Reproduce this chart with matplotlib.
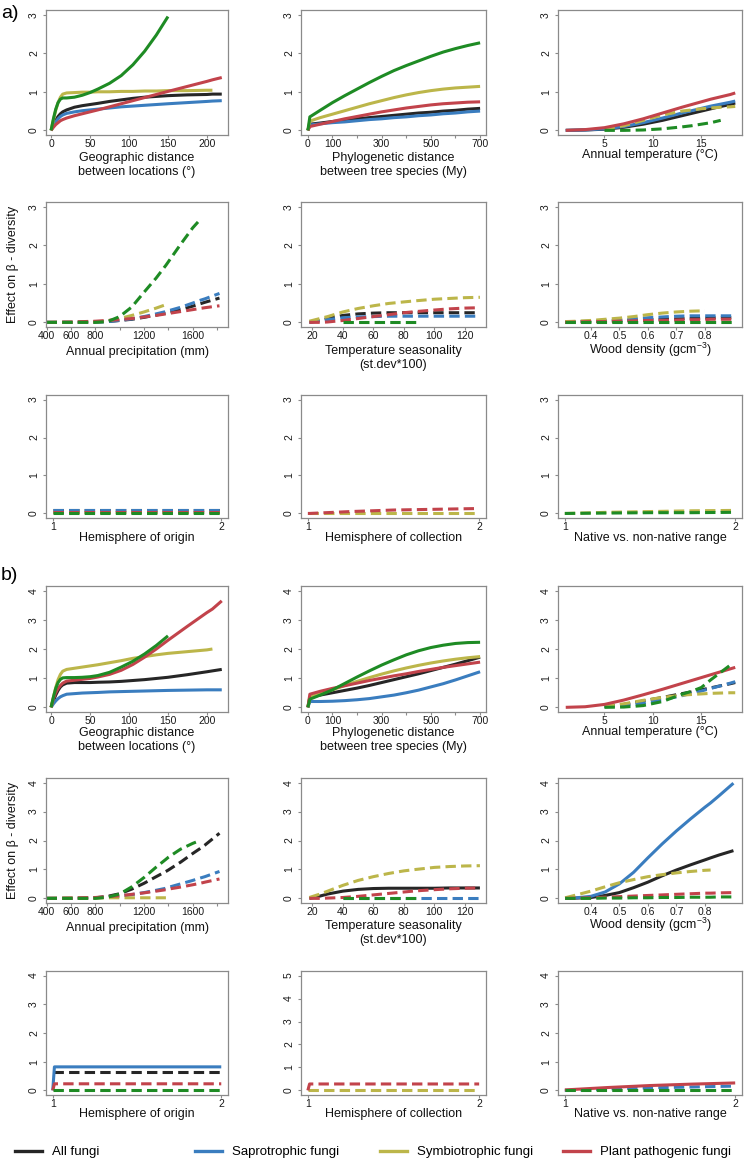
"""Effects of the predictors on fungal beta-diversity, panels a) and b)"""

import matplotlib.pyplot as plt
import numpy as np
from matplotlib.lines import Line2D

plt.rcParams["font.family"] = ["Liberation Sans", "DejaVu Sans"]
plt.rcParams["mathtext.fontset"] = "custom"
plt.rcParams["mathtext.rm"] = "Liberation Sans"

# legend
guilds = ["All fungi", "Saprotrophic fungi", "Symbiotrophic fungi", "Plant pathogenic fungi"]

# x grids of the predictors
geo_x = [0, 3, 6, 9, 12, 15, 20, 30, 40, 50, 60, 75, 90, 105, 120, 135, 150, 175, 200, 207, 219]
phylo_x = [0, 8, 50, 100, 150, 200, 250, 300, 350, 400, 450, 500, 550, 600, 650, 700]
temp_x = [1, 3, 5, 7, 9, 11, 13, 14, 15, 16, 17, 18, 18.5]
precip_x = [400, 600, 800, 900, 1000, 1100, 1200, 1300, 1380, 1400, 1500, 1600, 1660, 1700, 1820]
seas_x = [18, 25, 30, 40, 50, 60, 70, 80, 88, 100, 110, 120, 130]
wood_x = [0.31, 0.35, 0.4, 0.45, 0.5, 0.55, 0.6, 0.65, 0.7, 0.75, 0.8, 0.82, 0.85, 0.9]
hemi_x = [1.0, 1.01, 1.25, 1.5, 1.75, 2.0]

# ---- a) ----
a_geo_all = [0, 0.14, 0.26, 0.36, 0.43, 0.48, 0.53, 0.6, 0.64, 0.67, 0.7, 0.75, 0.79, 0.83, 0.86, 0.88, 0.9, 0.92, 0.93, 0.94, 0.94]
a_geo_sap = [0, 0.12, 0.22, 0.3, 0.36, 0.4, 0.44, 0.48, 0.51, 0.53, 0.55, 0.58, 0.61, 0.63, 0.65, 0.67, 0.69, 0.72, 0.75, 0.76, 0.77]
a_geo_sym = [0, 0.27, 0.52, 0.72, 0.86, 0.94, 0.97, 0.98, 0.99, 0.99, 1.0, 1.0, 1.01, 1.01, 1.02, 1.02, 1.03, 1.03, 1.04, 1.04, None]
a_geo_pat = [0, 0.08, 0.15, 0.2, 0.25, 0.28, 0.32, 0.38, 0.43, 0.48, 0.53, 0.61, 0.69, 0.77, 0.85, 0.93, 1.01, 1.14, 1.27, 1.31, 1.37]
a_geo_oth = [0, 0.3, 0.55, 0.72, 0.81, 0.84, 0.84, 0.86, 0.91, 0.98, 1.07, 1.22, 1.42, 1.7, 2.05, 2.47, 2.95, None, None, None, None]

a_phy_all = [0, 0.16, 0.19, 0.23, 0.26, 0.3, 0.33, 0.36, 0.39, 0.42, 0.45, 0.47, 0.5, 0.52, 0.55, 0.57]
a_phy_sap = [0, 0.14, 0.17, 0.2, 0.22, 0.25, 0.28, 0.3, 0.33, 0.35, 0.38, 0.4, 0.43, 0.45, 0.48, 0.5]
a_phy_sym = [0, 0.24, 0.33, 0.42, 0.51, 0.6, 0.69, 0.77, 0.85, 0.92, 0.98, 1.03, 1.07, 1.1, 1.12, 1.14]
a_phy_pat = [0, 0.1, 0.16, 0.23, 0.3, 0.36, 0.42, 0.48, 0.53, 0.58, 0.62, 0.66, 0.69, 0.71, 0.73, 0.74]
a_phy_oth = [0, 0.35, 0.52, 0.72, 0.9, 1.07, 1.24, 1.4, 1.55, 1.68, 1.8, 1.92, 2.03, 2.12, 2.2, 2.27]

a_temp_all = [0, 0.01, 0.03, 0.08, 0.16, 0.26, 0.38, 0.44, 0.5, 0.56, 0.62, 0.67, 0.71]
a_temp_sap = [0, 0.01, 0.04, 0.1, 0.2, 0.32, 0.45, 0.51, 0.57, 0.63, 0.68, 0.73, 0.76]
a_temp_sym = [None, None, 0.04, 0.12, 0.26, 0.4, 0.5, 0.53, 0.56, 0.58, 0.6, 0.61, 0.62]
a_temp_pat = [0, 0.02, 0.07, 0.17, 0.3, 0.45, 0.6, 0.67, 0.74, 0.81, 0.87, 0.93, 0.97]
a_temp_oth = [None, None, 0, 0, 0.01, 0.04, 0.09, 0.12, 0.16, 0.2, 0.26, None, None]

a_prec_all = [0, 0, 0.01, 0.02, 0.05, 0.08, 0.13, 0.19, 0.24, 0.26, 0.33, 0.42, 0.48, 0.52, 0.63]
a_prec_sap = [0, 0, 0.01, 0.02, 0.05, 0.09, 0.15, 0.22, 0.28, 0.3, 0.39, 0.5, 0.57, 0.61, 0.75]
a_prec_sym = [0, 0, 0.01, 0.04, 0.1, 0.18, 0.27, 0.37, 0.46, None, None, None, None, None, None]
a_prec_pat = [0, 0.01, 0.03, 0.05, 0.07, 0.1, 0.14, 0.18, 0.22, 0.23, 0.28, 0.33, 0.36, 0.38, 0.43]
a_prec_oth = [0, 0, 0, 0.02, 0.15, 0.4, 0.78, 1.15, 1.48, 1.57, 2.02, 2.45, 2.66, None, None]

a_seas_all = [0, 0.05, 0.1, 0.18, 0.22, 0.24, 0.25, 0.25, 0.25, 0.25, 0.25, 0.25, 0.25]
a_seas_sap = [0, 0.04, 0.07, 0.12, 0.14, 0.15, 0.16, 0.16, 0.16, 0.16, 0.16, 0.16, 0.16]
a_seas_sym = [0.03, 0.1, 0.15, 0.27, 0.36, 0.43, 0.49, 0.53, 0.56, 0.6, 0.62, 0.64, 0.65]
a_seas_pat = [0, 0, 0.01, 0.05, 0.1, 0.15, 0.2, 0.25, 0.28, 0.32, 0.35, 0.37, 0.38]
a_seas_oth = [None, None, None, 0, 0, 0, 0, 0, 0, None, None, None, None]

a_wood_all = [0, 0.01, 0.02, 0.03, 0.04, 0.06, 0.07, 0.08, 0.09, 0.1, 0.11, 0.11, 0.12, 0.12]
a_wood_sap = [0.01, 0.02, 0.03, 0.04, 0.06, 0.09, 0.12, 0.14, 0.16, 0.17, 0.17, 0.17, 0.17, 0.17]
a_wood_sym = [0.02, 0.03, 0.05, 0.08, 0.11, 0.15, 0.2, 0.24, 0.27, 0.29, 0.3, None, None, None]
a_wood_pat = [0, 0.01, 0.02, 0.02, 0.03, 0.04, 0.05, 0.05, 0.06, 0.07, 0.07, 0.08, 0.08, 0.08]
a_wood_oth = [0, 0, 0, 0, 0, 0, 0, 0, 0, 0, 0, 0, 0, 0]

a_hemo_all = [0.08, 0.08, 0.08, 0.08, 0.08, 0.08]
a_hemo_sap = [0.1, 0.1, 0.1, 0.1, 0.1, 0.1]
a_hemo_sym = [0.03, 0.03, 0.03, 0.03, 0.03, 0.03]
a_hemo_pat = [0.05, 0.05, 0.05, 0.05, 0.05, 0.05]
a_hemo_oth = [0, 0, 0, 0, 0, 0]
a_hemc_sym = [0.02, 0.02, 0.02, 0.02, 0.02, 0.02]
a_hemc_pat = [0, 0, 0.05, 0.09, 0.11, 0.13]
a_nat_sym = [0, 0, 0.03, 0.05, 0.07, 0.08]
a_nat_oth = [0, 0, 0.01, 0.02, 0.02, 0.03]

# ---- b) ----
b_geo_all = [0, 0.22, 0.42, 0.58, 0.7, 0.77, 0.83, 0.85, 0.85, 0.85, 0.86, 0.87, 0.89, 0.92, 0.95, 0.99, 1.03, 1.12, 1.22, 1.25, 1.3]
b_geo_sap = [0, 0.12, 0.22, 0.3, 0.36, 0.4, 0.45, 0.47, 0.49, 0.5, 0.51, 0.53, 0.54, 0.55, 0.56, 0.57, 0.58, 0.59, 0.6, 0.6, 0.6]
b_geo_sym = [0, 0.35, 0.68, 0.95, 1.13, 1.24, 1.3, 1.34, 1.38, 1.42, 1.46, 1.53, 1.6, 1.68, 1.74, 1.8, 1.85, 1.91, 1.97, 2.0, None]
b_geo_pat = [0, 0.3, 0.5, 0.65, 0.75, 0.83, 0.9, 0.93, 0.96, 0.99, 1.04, 1.13, 1.27, 1.47, 1.72, 2.0, 2.3, 2.78, 3.25, 3.37, 3.65]
b_geo_oth = [0, 0.35, 0.65, 0.85, 0.96, 1.01, 1.02, 1.02, 1.03, 1.05, 1.09, 1.2, 1.38, 1.58, 1.83, 2.12, 2.45, None, None, None, None]

b_phy_all = [0, 0.35, 0.42, 0.5, 0.58, 0.66, 0.75, 0.85, 0.95, 1.05, 1.15, 1.26, 1.37, 1.48, 1.6, 1.72]
b_phy_sap = [0, 0.2, 0.2, 0.21, 0.23, 0.26, 0.3, 0.36, 0.42, 0.5, 0.59, 0.7, 0.81, 0.94, 1.08, 1.22]
b_phy_sym = [0, 0.35, 0.47, 0.6, 0.75, 0.89, 1.02, 1.14, 1.25, 1.35, 1.44, 1.52, 1.59, 1.65, 1.7, 1.74]
b_phy_pat = [0, 0.45, 0.55, 0.65, 0.74, 0.83, 0.92, 1.0, 1.08, 1.15, 1.23, 1.3, 1.37, 1.43, 1.49, 1.55]
b_phy_oth = [0, 0.28, 0.42, 0.6, 0.82, 1.04, 1.25, 1.45, 1.63, 1.8, 1.94, 2.05, 2.13, 2.19, 2.22, 2.23]

b_temp_all = [None, None, 0.03, 0.1, 0.22, 0.34, 0.47, 0.53, 0.6, 0.67, 0.74, 0.81, 0.85]
b_temp_sap = [None, None, 0.02, 0.06, 0.14, 0.26, 0.4, 0.48, 0.56, 0.65, 0.74, 0.83, 0.88]
b_temp_sym = [None, None, 0.04, 0.12, 0.24, 0.34, 0.42, 0.44, 0.46, 0.48, 0.49, 0.5, 0.5]
b_temp_pat = [0, 0.02, 0.1, 0.25, 0.43, 0.62, 0.82, 0.92, 1.02, 1.12, 1.22, 1.32, 1.37]
b_temp_oth = [None, None, 0, 0.01, 0.06, 0.2, 0.45, 0.55, 0.68, 0.95, 1.2, 1.45, None]

b_prec_all = [0, 0, 0.02, 0.07, 0.16, 0.32, 0.52, 0.75, 0.93, 0.98, 1.25, 1.55, 1.72, 1.84, 2.25]
b_prec_sap = [0, 0, 0.02, 0.04, 0.08, 0.13, 0.2, 0.28, 0.35, 0.38, 0.5, 0.62, 0.7, 0.75, 0.93]
b_prec_sym = [0, 0.01, 0.01, 0.02, 0.02, 0.02, 0.02, 0.02, 0.02, None, None, None, None, None, None]
b_prec_pat = [0, 0.01, 0.03, 0.06, 0.09, 0.14, 0.19, 0.25, 0.3, 0.32, 0.39, 0.47, 0.52, 0.56, 0.67]
b_prec_oth = [0, 0, 0, 0.04, 0.15, 0.4, 0.72, 1.08, 1.35, 1.42, 1.7, 1.9, 2.0, None, None]

b_seas_all = [0, 0.08, 0.15, 0.25, 0.31, 0.34, 0.35, 0.35, 0.35, 0.35, 0.36, 0.36, 0.36]
b_seas_sap = [None, None, None, 0, 0, 0, 0, 0, 0, 0, 0, 0, 0]
b_seas_sym = [0.03, 0.15, 0.25, 0.45, 0.62, 0.75, 0.86, 0.95, 1.0, 1.07, 1.1, 1.12, 1.13]
b_seas_pat = [0, 0, 0.01, 0.03, 0.07, 0.12, 0.17, 0.22, 0.26, 0.3, 0.33, 0.35, 0.36]
b_seas_oth = [None, None, None, 0, 0, 0, 0, 0, 0, None, None, None, None]

b_wood_all = [0, 0.01, 0.03, 0.1, 0.2, 0.37, 0.56, 0.78, 0.98, 1.16, 1.33, 1.4, 1.5, 1.65]
b_wood_sap = [0, 0.02, 0.07, 0.22, 0.5, 0.9, 1.4, 1.88, 2.33, 2.75, 3.15, 3.3, 3.55, 3.98]
b_wood_sym = [0.02, 0.12, 0.25, 0.4, 0.54, 0.65, 0.75, 0.82, 0.88, 0.93, 0.97, 0.98, None, None]
b_wood_pat = [0, 0.01, 0.02, 0.04, 0.06, 0.08, 0.1, 0.12, 0.14, 0.16, 0.18, 0.18, 0.19, 0.2]
b_wood_oth = [0, 0, 0, 0.01, 0.01, 0.02, 0.02, 0.03, 0.03, 0.04, 0.04, 0.04, 0.05, 0.05]

b_hemo_all = [0.64, 0.64, 0.64, 0.64, 0.64, 0.64]
b_hemo_sap = [0, 0.82, 0.82, 0.82, 0.82, 0.82]
b_hemo_pat = [0, 0.23, 0.23, 0.23, 0.23, 0.23]
b_hemo_oth = [0, 0, 0, 0, 0, 0]
b_hemc_sym = [0, 0, 0, 0, 0, 0]
b_hemc_pat = [0, 0.28, 0.28, 0.28, 0.28, 0.28]
b_nat_sap = [0, 0, 0.05, 0.09, 0.12, 0.15]
b_nat_pat = [0.02, 0.02, 0.1, 0.17, 0.22, 0.26]
b_nat_oth = [0, 0, 0, 0, 0, 0]

# ---- styling ----
colours = {"all": "#262626", "sap": "#3a7dbf", "sym": "#bcb64a", "pat": "#c2434b", "oth": "#1e8b24"}
DASH = (0, (3.4, 1.7))
W, H = 745, 1162
col_px = [(46, 228), (301, 486), (558, 742)]
row_px = [(10, 135), (202, 327), (395, 518), (586, 712), (778, 903), (971, 1095)]
label_y = [[165, 165, 155], [352, 358, 350], [538, 538, 538],
           [740, 740, 732], [928, 933, 925], [1114, 1114, 1114]]

# per predictor: x, xlim, xticks, xtick labels, axis label
predictors = [
    [(geo_x, (-6.5, 227), [0, 50, 100, 150, 200], ["0", "50", "100", "150", "200"],
      "Geographic distance\nbetween locations (°)"),
     (phylo_x, (-28, 724), [0, 100, 200, 300, 400, 500, 600, 700],
      ["0", "100", "", "300", "", "500", "", "700"],
      "Phylogenetic distance\nbetween tree species (My)"),
     (temp_x, (0.2, 19.2), [5, 10, 15], ["5", "10", "15"], "Annual temperature (°C)")],
    [(precip_x, (395, 1890), [400, 600, 800, 1000, 1200, 1400, 1600, 1800],
      ["400", "600", "800", "", "1200", "", "1600", ""], "Annual precipitation (mm)"),
     (seas_x, (12.5, 134), [20, 40, 60, 80, 100, 120], ["20", "40", "60", "80", "100", "120"],
      "Temperature seasonality\n(st.dev*100)"),
     (wood_x, (0.285, 0.93), [0.4, 0.5, 0.6, 0.7, 0.8], ["0.4", "0.5", "0.6", "0.7", "0.8"],
      "Wood density (gcm$^{\\mathregular{-3}}$)")],
    [(hemi_x, (0.96, 2.04), [1, 2], ["1", "2"], "Hemisphere of origin"),
     (hemi_x, (0.96, 2.04), [1, 2], ["1", "2"], "Hemisphere of collection"),
     (hemi_x, (0.96, 2.04), [1, 2], ["1", "2"], "Native vs. non-native range")],
]

S, D = False, True
panels = {
    (0, 0): [(a_geo_all, "all", S), (a_geo_sap, "sap", S), (a_geo_sym, "sym", S), (a_geo_pat, "pat", S), (a_geo_oth, "oth", S)],
    (0, 1): [(a_phy_all, "all", S), (a_phy_sap, "sap", S), (a_phy_sym, "sym", S), (a_phy_pat, "pat", S), (a_phy_oth, "oth", S)],
    (0, 2): [(a_temp_all, "all", S), (a_temp_sap, "sap", S), (a_temp_sym, "sym", D), (a_temp_pat, "pat", S), (a_temp_oth, "oth", D)],
    (1, 0): [(a_prec_all, "all", D), (a_prec_sap, "sap", D), (a_prec_sym, "sym", D), (a_prec_pat, "pat", D), (a_prec_oth, "oth", D)],
    (1, 1): [(a_seas_all, "all", D), (a_seas_sap, "sap", D), (a_seas_sym, "sym", D), (a_seas_pat, "pat", D), (a_seas_oth, "oth", D)],
    (1, 2): [(a_wood_all, "all", D), (a_wood_sap, "sap", D), (a_wood_sym, "sym", D), (a_wood_pat, "pat", D), (a_wood_oth, "oth", D)],
    (2, 0): [(a_hemo_all, "all", D), (a_hemo_sap, "sap", D), (a_hemo_sym, "sym", D), (a_hemo_pat, "pat", D), (a_hemo_oth, "oth", D)],
    (2, 1): [(a_hemc_sym, "sym", D), (a_hemc_pat, "pat", D)],
    (2, 2): [(a_nat_sym, "sym", D), (a_nat_oth, "oth", D)],
    (3, 0): [(b_geo_all, "all", S), (b_geo_sap, "sap", S), (b_geo_sym, "sym", S), (b_geo_pat, "pat", S), (b_geo_oth, "oth", S)],
    (3, 1): [(b_phy_all, "all", S), (b_phy_sap, "sap", S), (b_phy_sym, "sym", S), (b_phy_pat, "pat", S), (b_phy_oth, "oth", S)],
    (3, 2): [(b_temp_all, "all", D), (b_temp_sap, "sap", D), (b_temp_sym, "sym", D), (b_temp_pat, "pat", S), (b_temp_oth, "oth", D)],
    (4, 0): [(b_prec_all, "all", D), (b_prec_sap, "sap", D), (b_prec_sym, "sym", D), (b_prec_pat, "pat", D), (b_prec_oth, "oth", D)],
    (4, 1): [(b_seas_all, "all", S), (b_seas_sap, "sap", D), (b_seas_sym, "sym", D), (b_seas_pat, "pat", D), (b_seas_oth, "oth", D)],
    (4, 2): [(b_wood_all, "all", S), (b_wood_sap, "sap", S), (b_wood_sym, "sym", D), (b_wood_pat, "pat", D), (b_wood_oth, "oth", D)],
    (5, 0): [(b_hemo_all, "all", D), (b_hemo_sap, "sap", S), (b_hemo_pat, "pat", D), (b_hemo_oth, "oth", D)],
    (5, 1): [(b_hemc_sym, "sym", D), (b_hemc_pat, "pat", D)],
    (5, 2): [(b_nat_sap, "sap", D), (b_nat_pat, "pat", S), (b_nat_oth, "oth", D)],
}

fig = plt.figure(figsize=(W / 100, H / 100), dpi=100)

for (r, c), series in panels.items():
    x0, x1 = col_px[c]
    y0, y1 = row_px[r]
    ax = fig.add_axes([x0 / W, 1 - y1 / H, (x1 - x0) / W, (y1 - y0) / H])
    x, xlim, xticks, xlabels, xname = predictors[r % 3][c]
    for y, key, dashed in series:
        yy = np.array([np.nan if v is None else v for v in y], dtype=float)
        ax.plot(x, yy, color=colours[key], lw=2.2, linestyle=DASH if dashed else "-",
                solid_capstyle="butt", dash_capstyle="butt")

    ymax = 3 if r < 3 else (5 if (r, c) == (5, 1) else 4)
    ax.set_ylim(-0.04 * ymax, 1.04 * ymax)
    ax.set_yticks(range(ymax + 1))
    ax.set_yticklabels([str(t) for t in range(ymax + 1)], rotation=90, va="center")
    ax.set_xlim(xlim)
    ax.set_xticks(xticks)
    ax.set_xticklabels(xlabels)

    for sp in ax.spines.values():
        sp.set_color("#8a8a8a")
        sp.set_linewidth(0.9)
    ax.tick_params(length=2.5, width=0.8, color="#8a8a8a", labelsize=7.5, labelcolor="#1a1a1a")
    ax.tick_params(axis="x", pad=0.5)
    ax.tick_params(axis="y", pad=2.5)

    fig.text((x0 + x1) / 2 / W, 1 - label_y[r][c] / H, xname, ha="center", va="center",
             fontsize=9, linespacing=1.25, color="#111111")

# y axis titles and panel tags
for yc in [264.5, 840.5]:
    fig.text(13 / W, 1 - yc / H, "Effect on β - diversity", rotation=90, ha="center", va="center",
             fontsize=9, color="#111111")
fig.text(1 / W, 1 - 13.5 / H, "a)", ha="left", va="center", fontsize=14)
fig.text(1 / W, 1 - 576 / H, "b)", ha="left", va="center", fontsize=14)

# legend along the bottom
legend_x = [15, 195, 380, 563]
for name, key, lx in zip(guilds, ["all", "sap", "sym", "pat"], legend_x):
    handle = Line2D([], [], color=colours[key], lw=2.4)
    fig.legend(handles=[handle], labels=[name], loc="center left",
               bbox_to_anchor=(lx / W, 1 - 1152 / H), frameon=False, fontsize=9.5,
               handlelength=2.05, handletextpad=0.75, borderpad=0, borderaxespad=0)

fig.savefig("out.png", dpi=100)
